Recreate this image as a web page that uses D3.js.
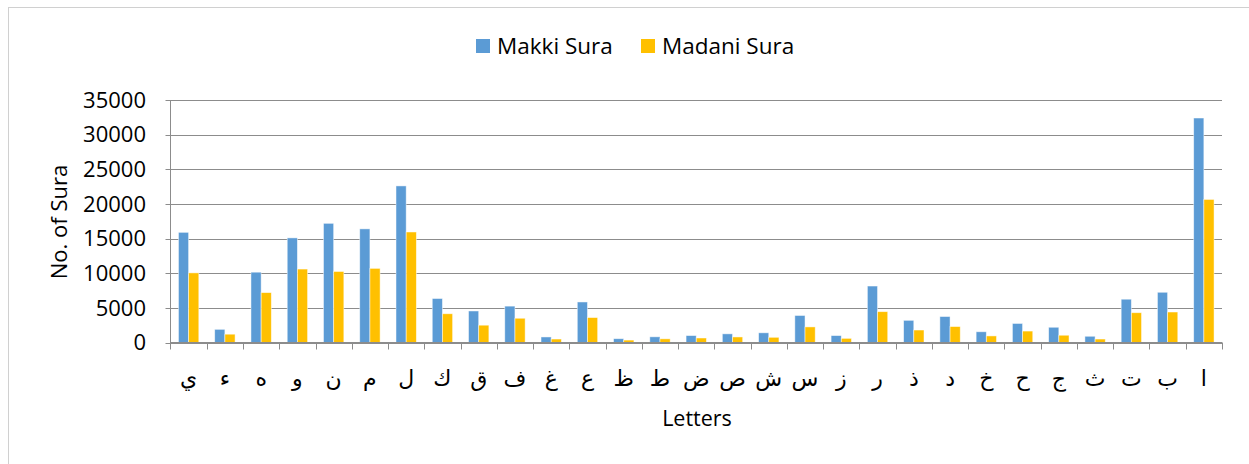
<!DOCTYPE html>
<html><head><meta charset="utf-8">
<script src="https://cdn.jsdelivr.net/npm/d3@7"></script>
<style>
body{margin:0;background:#fff;}
text{font-family:"Open Sans","DejaVu Sans",sans-serif;fill:#000;}
</style></head>
<body><svg id="c" width="1249" height="464"></svg>
<script>
const categories = ["ي","ء","ه","و","ن","م","ل","ك","ق","ف","غ","ع","ظ","ط","ض","ص","ش","س","ز","ر","ذ","د","خ","ح","ج","ث","ت","ب","ا"];
const makki  = [15900,1900,10150,15100,17200,16400,22600,6350,4550,5250,800,5850,550,820,1000,1250,1400,3900,1000,8150,3200,3750,1550,2750,2200,900,6250,7250,32400];
const madani = [10050,1200,7200,10600,10250,10700,15950,4150,2500,3500,500,3600,350,530,650,800,750,2250,600,4450,1800,2300,950,1650,1050,500,4300,4400,20650];
const seriesNames = ["Makki Sura","Madani Sura"];
const colors = ["#5B9BD5","#FFC000"];
const yTicks = [0,5000,10000,15000,20000,25000,30000,35000];

const svg = d3.select("#c");
svg.append("rect").attr("x",8.5).attr("y",7.5).attr("width",1300).attr("height",600)
  .attr("fill","#fff").attr("stroke","#d0d0d0").attr("stroke-width",1);

const L=170.5,R=1222,T=100,B=342.5;
const x = d3.scaleBand().domain(categories).range([L,R]).paddingInner(0).paddingOuter(0);
const y = d3.scaleLinear().domain([0,35000]).range([B,T]);
const bw = x.bandwidth()*0.281;

svg.append("g").selectAll("line").data(yTicks).join("line")
  .attr("x1",L-5).attr("x2",R).attr("y1",d=>Math.round(y(d))+0.5).attr("y2",d=>Math.round(y(d))+0.5)
  .attr("stroke","#8c8c8c").attr("stroke-width",1);
svg.append("g").selectAll("text").data(yTicks).join("text")
  .attr("x",146).attr("y",d=>y(d)).attr("dy","0.35em").attr("text-anchor","end")
  .attr("font-size",22).text(d=>d);
svg.append("line").attr("x1",L).attr("x2",L).attr("y1",T).attr("y2",B+7).attr("stroke","#8c8c8c");
const edges = categories.map(c=>x(c)).concat([R]);
svg.append("g").selectAll("line").data(edges.slice(1)).join("line")
  .attr("x1",d=>Math.round(d)+0.5).attr("x2",d=>Math.round(d)+0.5).attr("y1",B).attr("y2",B+7)
  .attr("stroke","#8c8c8c");

[makki,madani].forEach((vals,si)=>{
  svg.append("g").selectAll("rect").data(categories).join("rect")
    .attr("x",(c,i)=>x(c)+x.bandwidth()/2 - bw + si*bw)
    .attr("y",(c,i)=>y(vals[i]))
    .attr("width",bw)
    .attr("height",(c,i)=>B-y(vals[i]))
    .attr("fill",colors[si])
    .attr("stroke","rgba(255,255,255,0.6)").attr("stroke-width",0.8);
});
svg.append("line").attr("x1",L).attr("x2",R).attr("y1",B).attr("y2",B).attr("stroke","#8c8c8c");

svg.append("g").selectAll("text").data(categories).join("text")
  .attr("x",c=>x(c)+x.bandwidth()/2).attr("y",386).attr("text-anchor","middle")
  .attr("font-size",22).text(c=>c);

svg.append("text").attr("x",697).attr("y",426).attr("text-anchor","middle").attr("font-size",21.5).text("Letters");
svg.append("text").attr("transform","translate(67,222) rotate(-90)").attr("text-anchor","middle").attr("font-size",22).text("No. of Sura");

const lg = [{x:476,tx:497},{x:641,tx:662}];
seriesNames.forEach((n,i)=>{
  svg.append("rect").attr("x",lg[i].x).attr("y",39).attr("width",14).attr("height",14).attr("fill",colors[i]);
  svg.append("text").attr("x",lg[i].tx).attr("y",54).attr("font-size",22.5).text(n);
});
</script></body></html>
